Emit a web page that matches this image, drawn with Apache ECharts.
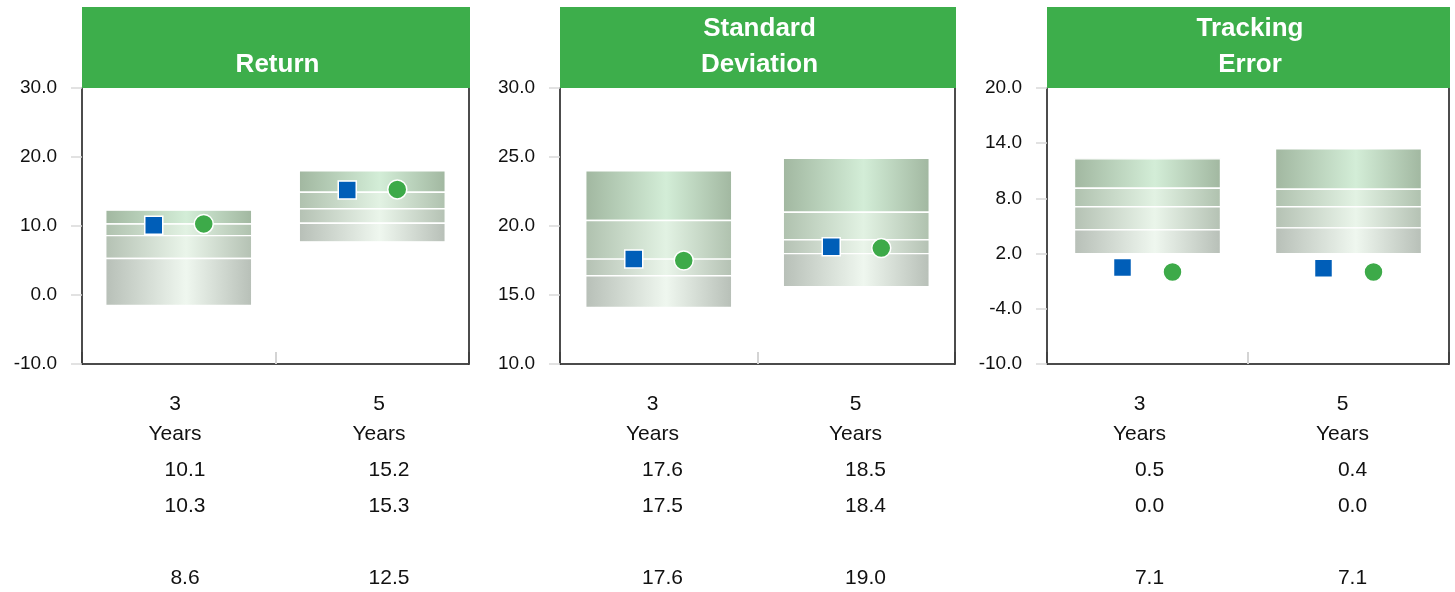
<!DOCTYPE html>
<html>
<head>
<meta charset="utf-8">
<script src="https://cdn.jsdelivr.net/npm/echarts@6/dist/echarts.min.js"></script>
<style>html,body{margin:0;padding:0;background:#fff;}#c{width:1455px;height:592px;}</style>
</head>
<body>
<div id="c"></div>
<script>
// ---- data ----
const panelTitles = ['Return', 'Standard\nDeviation', 'Tracking\nError'];
const periodNumbers = ['3', '5'];
const periodUnit = 'Years';
const categories = ['3 Years', '5 Years'];

// band edges per category: [top, upper, median, lower, bottom]
const returnBands = [[12.3, 10.3, 8.6, 5.3, -1.5], [18.0, 14.9, 12.5, 10.4, 7.7]];
const sdBands = [[24.0, 20.4, 17.6, 16.4, 14.1], [24.9, 21.0, 19.0, 18.0, 15.6]];
const teBands = [[12.3, 9.1, 7.1, 4.6, 2.0], [13.4, 9.0, 7.1, 4.8, 2.0]];

const returnSquare = [10.1, 15.2];
const returnCircle = [10.3, 15.3];
const returnMedian = [8.6, 12.5];
const sdSquare = [17.6, 18.5];
const sdCircle = [17.5, 18.4];
const sdMedian = [17.6, 19.0];
const teSquare = [0.5, 0.4];
const teCircle = [0.0, 0.0];
const teMedian = [7.1, 7.1];

const returnTicks = [-10, 0, 10, 20, 30];
const sdTicks = [10, 15, 20, 25, 30];
const teTicks = [-10, -4, 2, 8, 14, 20];

// ---- layout / style ----
const FONT = "'Liberation Sans Narrow', 'Arial Narrow', 'Liberation Sans', Arial, sans-serif";
const HEADER_GREEN = '#3DAE4B';
const panels = [
  {title: panelTitles[0], bands: returnBands, sq: returnSquare, ci: returnCircle, med: returnMedian, ticks: returnTicks,
   grid: {left: 82, top: 88, width: 387, height: 276}, table: {left: 83, width: 408}},
  {title: panelTitles[1], bands: sdBands, sq: sdSquare, ci: sdCircle, med: sdMedian, ticks: sdTicks,
   grid: {left: 560, top: 88, width: 395, height: 276}, table: {left: 561, width: 406}},
  {title: panelTitles[2], bands: teBands, sq: teSquare, ci: teCircle, med: teMedian, ticks: teTicks,
   grid: {left: 1047, top: 88, width: 402, height: 276}, table: {left: 1048, width: 406}}
];

const bandColors = [
  ['#a1b7a0', '#d3edd7'],
  ['#afc1ae', '#e2f2e3'],
  ['#b4c1b3', '#eaf5ea'],
  ['#b7bfb7', '#eff7ef']
];
function bandFill(i) {
  const c = bandColors[i];
  return new echarts.graphic.LinearGradient(0, 0, 1, 0, [
    {offset: 0, color: c[0]},
    {offset: 0.55, color: c[1]},
    {offset: 1, color: c[0]}
  ]);
}

function renderBox(params, api) {
  const x = api.value(0);
  const w = 146;
  const children = [];
  for (let i = 0; i < 4; i++) {
    const p1 = api.coord([x, api.value(i + 1)]);
    const p2 = api.coord([x, api.value(i + 2)]);
    children.push({
      type: 'rect',
      shape: {x: p1[0] - w / 2, y: p1[1], width: w, height: p2[1] - p1[1]},
      style: {fill: bandFill(i), stroke: '#ffffff', lineWidth: 1.4}
    });
  }
  return {type: 'group', children: children};
}

const grid = [], xAxis = [], yAxis = [], series = [], graphic = [];

panels.forEach((p, k) => {
  const min = p.ticks[0], max = p.ticks[p.ticks.length - 1];
  const pi = 2 * k, ti = 2 * k + 1;
  // plot grid
  grid.push(Object.assign({show: false, containLabel: false, outerBoundsMode: 'none'}, p.grid));
  xAxis.push({
    type: 'category', gridIndex: pi, data: categories, z: 1,
    axisLine: {show: true, onZero: false, lineStyle: {color: '#111', width: 1.5}},
    axisTick: {show: true, inside: true, length: 12, lineStyle: {color: '#d4d4d4', width: 2}},
    axisLabel: {show: false}, splitLine: {show: false}
  });
  const yIdx = yAxis.length;
  yAxis.push({
    type: 'value', gridIndex: pi, min: min, max: max, z: 3,
    axisLine: {show: true, onZero: false, lineStyle: {color: '#111', width: 1.5}},
    axisTick: {show: true, length: 11, customValues: p.ticks, lineStyle: {color: '#d9d9d9', width: 1.5}},
    axisLabel: {customValues: p.ticks, margin: 25, fontFamily: FONT, fontSize: 19, color: '#111',
      formatter: v => v.toFixed(1)},
    splitLine: {show: false}
  });
  // right-hand frame line of the plot box
  yAxis.push({
    type: 'value', gridIndex: pi, min: min, max: max, position: 'right', z: 3,
    axisLine: {show: true, onZero: false, lineStyle: {color: '#111', width: 1.5}},
    axisTick: {show: false}, axisLabel: {show: false}, splitLine: {show: false}
  });
  series.push({
    type: 'custom', xAxisIndex: pi, yAxisIndex: yIdx, renderItem: renderBox,
    encode: {x: 0, y: [1, 2, 3, 4, 5]}, silent: true, z: 2,
    data: p.bands.map((b, i) => [i].concat(b))
  });
  series.push({
    type: 'scatter', xAxisIndex: pi, yAxisIndex: yIdx, symbol: 'rect', symbolSize: 18,
    symbolOffset: [-25, 0], z: 5,
    itemStyle: {color: '#005EB8', borderColor: '#fff', borderWidth: 1.5, opacity: 1},
    data: p.sq.map((v, i) => [i, v])
  });
  series.push({
    type: 'scatter', xAxisIndex: pi, yAxisIndex: yIdx, symbol: 'circle', symbolSize: 19,
    symbolOffset: [25, 0], z: 5,
    itemStyle: {color: '#3DAA49', borderColor: '#fff', borderWidth: 1.5, opacity: 1},
    data: p.ci.map((v, i) => [i, v])
  });

  // table grid (values below the plot)
  grid.push({left: p.table.left, width: p.table.width, top: 300, height: 64, show: false,
    containLabel: false, outerBoundsMode: 'none'});
  xAxis.push({
    type: 'category', gridIndex: ti, data: categories,
    axisLine: {show: false}, axisTick: {show: false}, splitLine: {show: false},
    axisLabel: {
      margin: 28.5, interval: 0, align: 'center', lineHeight: 36,
      fontFamily: FONT, fontSize: 21, color: '#111',
      formatter: (val, i) => '{c1|' + periodNumbers[i] + '}\n{c|' + periodUnit + '}\n{v|' +
        p.sq[i].toFixed(1) + '}\n{v|' + p.ci[i].toFixed(1) + '}\n{b| }\n{v|' + p.med[i].toFixed(1) + '}',
      rich: {
        c1: {fontFamily: FONT, fontSize: 21, color: '#111', lineHeight: 24, padding: [0, 20, 0, 0]},
        c: {fontFamily: FONT, fontSize: 21, color: '#111', lineHeight: 36, padding: [0, 20, 0, 0]},
        v: {fontFamily: FONT, fontSize: 21, color: '#111', lineHeight: 36},
        b: {fontFamily: FONT, fontSize: 21, lineHeight: 36}
      }
    }
  });
  yAxis.push({type: 'value', gridIndex: ti, show: false});

  // header band
  const g = p.grid;
  graphic.push({
    type: 'rect', left: g.left, top: 7, z: 100,
    shape: {width: g.width + 1, height: 81},
    style: {fill: HEADER_GREEN}
  });
  graphic.push({
    type: 'text', z: 101,
    x: g.left + g.width / 2 + 2, y: 83,
    style: {text: p.title, fill: '#ffffff', font: 'bold 26px ' + FONT, align: 'center',
      verticalAlign: 'bottom', lineHeight: 36}
  });
});

const chart = echarts.init(document.getElementById('c'), null, {renderer: 'canvas'});
chart.setOption({
  animation: false,
  backgroundColor: '#ffffff',
  grid: grid, xAxis: xAxis, yAxis: yAxis, series: series, graphic: graphic
});
</script>
</body>
</html>
